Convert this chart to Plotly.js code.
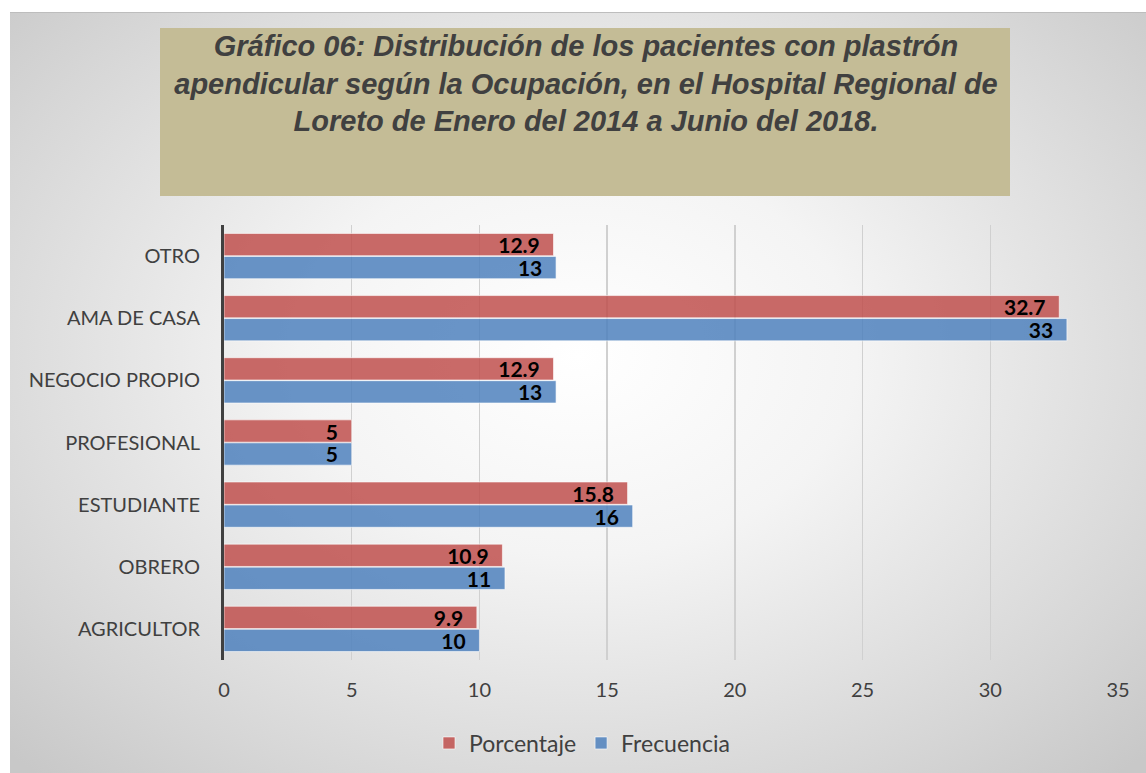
<!DOCTYPE html>
<html><head><meta charset="utf-8">
<script src="https://cdn.plot.ly/plotly-3.0.1.min.js"></script>
<style>
html,body{margin:0;padding:0;background:#fff;width:1146px;height:773px;overflow:hidden;}
#bg{position:absolute;left:10px;top:12px;width:1136px;height:761px;
background:radial-gradient(ellipse 70% 75% at 50% 45%, #ffffff 0%, #f4f4f4 35%, #d6d6d6 80%, #c8c8c8 100%);
border-top:1px solid #bdbdbd;}
#chart{position:absolute;left:0;top:0;width:1146px;height:773px;}
</style></head>
<body><div id="bg"></div><div id="chart"></div>
<script>
const categories = ["AGRICULTOR","OBRERO","ESTUDIANTE","PROFESIONAL","NEGOCIO PROPIO","AMA DE CASA","OTRO"];
const porcentaje = [9.9, 10.9, 15.8, 5, 12.9, 32.7, 12.9];
const frecuencia = [10, 11, 16, 5, 13, 33, 13];
const titleText = "<b><i>Gráfico 06: Distribución de los pacientes con plastrón<br>apendicular según la Ocupación, en el Hospital Regional de<br>Loreto de Enero del 2014 a Junio del 2018.</i></b>";

const labelFont = {family:"Lato, 'Open Sans', sans-serif", size:21, color:"#000"};
const pad = "\u00A0\u00A0";
const traces = [
 {type:"bar", orientation:"h", name:"Frecuencia", y:categories, x:frecuencia,
  text:frecuencia.map(String), textposition:"inside", insidetextanchor:"end", constraintext:"none",
  texttemplate:"<b>%{text}</b>" + pad, textfont:labelFont, textangle:0,
  marker:{color:"rgba(79,129,189,0.85)", line:{color:"rgba(255,255,255,0.6)", width:1}}},
 {type:"bar", orientation:"h", name:"Porcentaje", y:categories, x:porcentaje,
  text:porcentaje.map(String), textposition:"inside", insidetextanchor:"end", constraintext:"none",
  texttemplate:"<b>%{text}</b>" + pad, textfont:labelFont, textangle:0,
  marker:{color:"rgba(192,80,77,0.85)", line:{color:"rgba(255,255,255,0.6)", width:1}}}
];
const layout = {
 width:1146, height:773,
 paper_bgcolor:"rgba(0,0,0,0)", plot_bgcolor:"rgba(0,0,0,0)",
 margin:{l:224, r:28, t:225, b:113},
 barmode:"group", bargap:0.26, bargroupgap:0.03,
 font:{family:"Lato, 'Open Sans', sans-serif", color:"#404040"},
 title:{text:titleText, x:586/1146, xanchor:"center", xref:"container", y:1-56/773, yanchor:"middle", yref:"container",
   font:{family:"'Liberation Sans', Arial, sans-serif", size:29, color:"#404040", lineposition:"none"}},
 xaxis:{range:[0,35], dtick:5, tick0:0, showgrid:true, gridcolor:"#d0d0d0", gridwidth:1.3,
   zeroline:false, showline:false, ticks:"", ticklabelstandoff:16, tickfont:{size:20, color:"#404040"}, fixedrange:true},
 yaxis:{type:"category", categoryorder:"array", categoryarray:categories,
   showline:true, linecolor:"#404040", linewidth:3, showgrid:false, ticks:"",
   ticklabelstandoff:17, tickfont:{size:20, color:"#404040"}, fixedrange:true},
 legend:{orientation:"h", x:582/1146, xanchor:"center", xref:"container", y:1-743/773, yanchor:"middle", yref:"container",
   traceorder:"reversed", font:{size:23, color:"#404040"}, itemwidth:30},
 shapes:[{type:"rect", xref:"paper", yref:"paper", x0:(160-224)/894, x1:(1010-224)/894, y0:(660-196)/435, y1:(660-28)/435,
   fillcolor:"#c4bc96", line:{width:0}, layer:"below"}],
 showlegend:true
};
Plotly.newPlot("chart", traces, layout, {displayModeBar:false, staticPlot:true});
</script></body></html>
